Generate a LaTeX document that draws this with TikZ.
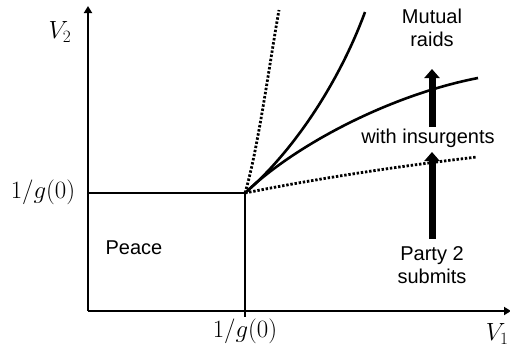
\documentclass[tikz,border=0pt]{standalone}
\usepackage{fontspec}
\setmainfont{Liberation Sans}
\usepackage{amsmath}
\usetikzlibrary{arrows.meta}

\begin{document}
\begin{tikzpicture}[x=1pt,y=-1pt,
    axis/.style={line width=2.8pt,-{Triangle[length=7pt,width=8pt]}},
    border/.style={line width=2.8pt},
    curve/.style={line width=2.6pt},
    dots/.style={line width=2.8pt,dash pattern=on 2.4pt off 1.8pt},
    push/.style={line width=7pt,-{Triangle[length=9pt,width=15pt]}},
    lbl/.style={font=\fontsize{20}{23}\selectfont,align=center},
    mlbl/.style={font=\fontsize{23}{26}\selectfont}]
  \useasboundingbox (0,0) rectangle (510,349);
  \coordinate (O) at (88,311);
  \coordinate (ytop) at (88,6);
  \coordinate (xend) at (511,311);
  \coordinate (K) at (245,193);
  \coordinate (Kleft) at (88,193);
  \coordinate (Kdown) at (245,317);
  % axes
  \draw[axis] (O) -- (ytop);
  \draw[axis] (O) -- (xend);
  \draw[border] (Kleft) -- (K) -- (Kdown);
  % labels on the axes
  \node[mlbl] (v2) at (60,32) {$V_2$};
  \node[mlbl] (gy) at (43,192) {$1/g(0)$};
  \node[mlbl] (gx) at (245,331) {$1/g(0)$};
  \node[mlbl,anchor=east] (v1) at (512,334) {$V_1$};
  % boundaries
  \draw[dots] (K) .. controls (258,150) and (270,60) .. (279,10);
  \draw[curve] (K) .. controls (295,150) and (340,80) .. (365,12);
  \draw[curve] (K) .. controls (295,145) and (390,95) .. (478,78);
  \draw[dots] (K) .. controls (320,178) and (400,166) .. (477,157);
  % regions
  \node[lbl] (peace) at (134,248) {Peace};
  \node[lbl] (raids) at (432,28) {Mutual\\raids};
  \node[lbl] (insurg) at (428,138) {with insurgents};
  \node[lbl] (submit) at (432,265) {Party 2\\submits};
  \draw[push] (432,127) -- (432,69);
  \draw[push] (submit.north -| 432,0) ++(0,-4) -- (432,152);
\end{tikzpicture}
\end{document}
